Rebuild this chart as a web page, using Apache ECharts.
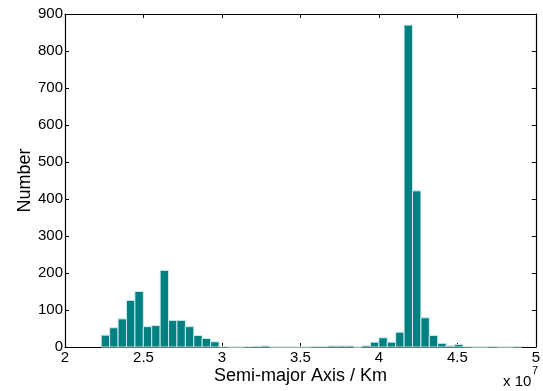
<!DOCTYPE html>
<html>
<head>
<meta charset="utf-8">
<script src="https://cdn.jsdelivr.net/npm/echarts@6/dist/echarts.min.js"></script>
<style>
  html, body { margin: 0; padding: 0; background: #fff; }
  #chart { width: 543px; height: 391px; }
</style>
</head>
<body>
<div id="chart"></div>
<script>
// histogram of semi-major axis (units of 1e7 km), 50 equal bins
const binStart = 2.231;
const binWidth = 0.0536;
const counts = [
  32, 52, 76, 126, 150, 55, 58, 207, 72, 72,
  55, 31, 23, 14, 1, 0, 0, 1, 2, 3,
  0, 0, 0, 0, 0, 1, 1, 3, 3, 3,
  0, 4, 13, 25, 13, 40, 870, 422, 79, 31,
  10, 3, 7, 1, 0, 0, 1, 0, 0, 1
];
const xTicks = [2, 2.5, 3, 3.5, 4, 4.5, 5];
const yTicks = [0, 100, 200, 300, 400, 500, 600, 700, 800, 900];

const FONT = '"Liberation Sans", Arial, sans-serif';

const bins = counts.map((c, i) => [binStart + i * binWidth, binStart + (i + 1) * binWidth, c]);

const chart = echarts.init(document.getElementById('chart'));

const tickStyle = { show: true, inside: true, length: 4, lineStyle: { color: '#000', width: 1 } };
const lineStyle = { show: true, onZero: false, lineStyle: { color: '#000', width: 1.2 } };

chart.setOption({
  animation: false,
  grid: { left: 65, right: 2, top: 14, bottom: 44, containLabel: false },
  xAxis: [{
    type: 'value',
    min: xTicks[0],
    max: xTicks[xTicks.length - 1],
    interval: 0.5,
    position: 'bottom',
    axisLine: lineStyle,
    axisTick: tickStyle,
    splitLine: { show: false },
    axisLabel: { margin: 3, fontSize: 15, color: '#000', fontFamily: FONT, formatter: v => String(v) },
    name: 'Semi-major Axis / Km',
    nameLocation: 'middle',
    nameGap: 20,
    nameMoveOverlap: false,
    nameTextStyle: { fontSize: 18, color: '#000', fontFamily: FONT }
  }, {
    type: 'value',
    min: xTicks[0],
    max: xTicks[xTicks.length - 1],
    interval: 0.5,
    position: 'top',
    axisLine: lineStyle,
    axisTick: tickStyle,
    axisLabel: { show: false },
    splitLine: { show: false }
  }],
  yAxis: [{
    type: 'value',
    min: yTicks[0],
    max: yTicks[yTicks.length - 1],
    interval: 100,
    position: 'left',
    axisLine: lineStyle,
    axisTick: tickStyle,
    splitLine: { show: false },
    axisLabel: { margin: 2, fontSize: 15, color: '#000', fontFamily: FONT },
    name: 'Number',
    nameLocation: 'middle',
    nameGap: 31,
    nameMoveOverlap: false,
    nameTextStyle: { fontSize: 18, color: '#000', fontFamily: FONT }
  }, {
    type: 'value',
    min: yTicks[0],
    max: yTicks[yTicks.length - 1],
    interval: 100,
    position: 'right',
    axisLine: lineStyle,
    axisTick: tickStyle,
    axisLabel: { show: false },
    splitLine: { show: false }
  }],
  series: [{
    type: 'custom',
    xAxisIndex: 0,
    yAxisIndex: 0,
    data: bins,
    encode: { x: [0, 1], y: 2 },
    renderItem: (params, api) => {
      const p0 = api.coord([api.value(0), api.value(2)]);
      const p1 = api.coord([api.value(1), 0]);
      return {
        type: 'rect',
        shape: { x: p0[0], y: p0[1], width: p1[0] - p0[0], height: p1[1] - p0[1] },
        style: { fill: '#008080', stroke: '#cfe9e9', lineWidth: 1 }
      };
    }
  }],
  graphic: [
    { type: 'text', left: 503, top: 374, style: { text: 'x 10', fontSize: 15, fill: '#000', fontFamily: FONT } },
    { type: 'text', left: 532, top: 365, style: { text: '7', fontSize: 11, fill: '#000', fontFamily: FONT } }
  ]
});
</script>
</body>
</html>
